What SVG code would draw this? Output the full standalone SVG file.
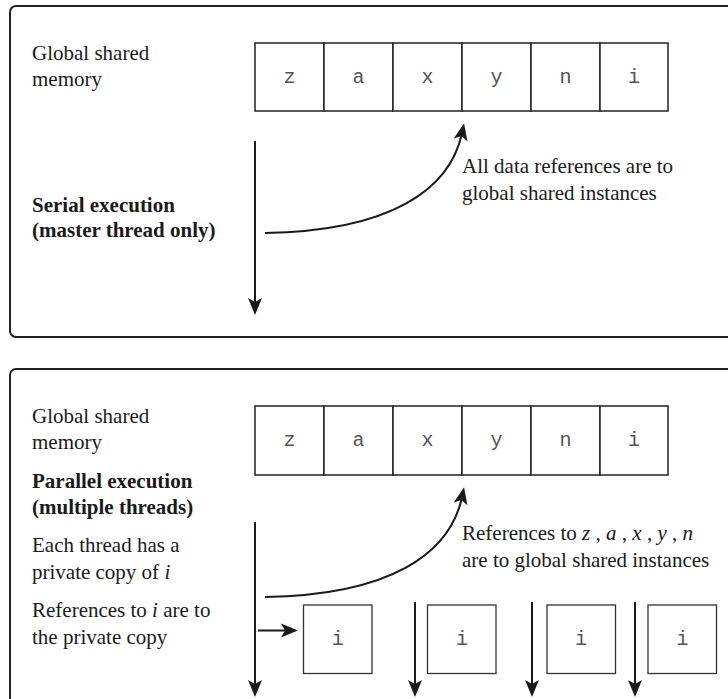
<svg xmlns="http://www.w3.org/2000/svg" width="728" height="699" viewBox="0 0 728 699">
  <defs>
    <marker id="head" markerUnits="userSpaceOnUse" orient="auto" refX="0" refY="0" markerWidth="40" markerHeight="40" overflow="visible">
      <path d="M10,0 L-7,-7 L-3,0 L-7,7 Z" fill="#1a1a1a"/>
    </marker>
    <style>
      .panel { fill: none; stroke: #222; stroke-width: 2; }
      .cell { fill: #fff; stroke: #222; stroke-width: 1.5; }
      .pcell { fill: #fff; stroke: #333; stroke-width: 1.3; }
      .mono { font-family: "Liberation Mono", "DejaVu Sans Mono", monospace; font-size: 20px; fill: #555; text-anchor: middle; }
      .lbl { font-family: "Liberation Serif", "Times New Roman", serif; font-size: 21px; fill: #1a1a1a; }
      .bold { font-weight: bold; }
      .wire { fill: none; stroke: #1a1a1a; stroke-width: 2; marker-end: url(#head); }
    </style>
  </defs>

  <!-- Serial execution panel -->
  <g id="serial-panel">
    <rect class="panel" x="10" y="6" width="740" height="331" rx="6"/>
    <text class="lbl" x="32" y="60">Global shared</text>
    <text class="lbl" x="32" y="86">memory</text>
    <text class="lbl bold" x="32" y="212">Serial execution</text>
    <text class="lbl bold" x="32" y="237">(master thread only)</text>
    <text class="lbl" x="462" y="173">All data references are to</text>
    <text class="lbl" x="462" y="200">global shared instances</text>
  </g>

  <g id="serial-memory">
    <rect class="cell" x="255" y="43" width="69" height="68"/>
    <rect class="cell" x="324" y="43" width="69" height="68"/>
    <rect class="cell" x="393" y="43" width="69" height="68"/>
    <rect class="cell" x="462" y="43" width="69" height="68"/>
    <rect class="cell" x="531" y="43" width="69" height="68"/>
    <rect class="cell" x="600" y="43" width="68" height="68"/>
    <text class="mono" x="289.5" y="83">z</text>
    <text class="mono" x="358.5" y="83">a</text>
    <text class="mono" x="427.5" y="83">x</text>
    <text class="mono" x="496.5" y="83">y</text>
    <text class="mono" x="565.5" y="83">n</text>
    <text class="mono" x="634" y="83">i</text>
  </g>

  <!-- Parallel execution panel -->
  <g id="parallel-panel">
    <rect class="panel" x="10" y="369" width="740" height="360" rx="6"/>
    <text class="lbl" x="32" y="423">Global shared</text>
    <text class="lbl" x="32" y="449">memory</text>
    <text class="lbl bold" x="32" y="488">Parallel execution</text>
    <text class="lbl bold" x="32" y="514">(multiple threads)</text>
    <text class="lbl" x="32" y="552">Each thread has a</text>
    <text class="lbl" x="32" y="579">private copy of <tspan font-style="italic">i</tspan></text>
    <text class="lbl" x="32" y="617">References to <tspan font-style="italic">i</tspan> are to</text>
    <text class="lbl" x="32" y="644">the private copy</text>
    <text class="lbl" x="462" y="540">References to <tspan font-style="italic">z</tspan> , <tspan font-style="italic">a</tspan> , <tspan font-style="italic">x</tspan> , <tspan font-style="italic">y</tspan> , <tspan font-style="italic">n</tspan></text>
    <text class="lbl" x="462" y="567">are to global shared instances</text>
  </g>

  <g id="parallel-memory">
    <rect class="cell" x="255" y="406" width="69" height="69"/>
    <rect class="cell" x="324" y="406" width="69" height="69"/>
    <rect class="cell" x="393" y="406" width="69" height="69"/>
    <rect class="cell" x="462" y="406" width="69" height="69"/>
    <rect class="cell" x="531" y="406" width="69" height="69"/>
    <rect class="cell" x="600" y="406" width="68" height="69"/>
    <text class="mono" x="289.5" y="446">z</text>
    <text class="mono" x="358.5" y="446">a</text>
    <text class="mono" x="427.5" y="446">x</text>
    <text class="mono" x="496.5" y="446">y</text>
    <text class="mono" x="565.5" y="446">n</text>
    <text class="mono" x="634" y="446">i</text>
  </g>

  <g id="private-copy-1">
    <rect class="pcell" x="303.5" y="605" width="68.5" height="68.5"/>
    <text class="mono" x="337.7" y="645">i</text>
  </g>
  <g id="private-copy-2">
    <rect class="pcell" x="427.5" y="605" width="68.5" height="68.5"/>
    <text class="mono" x="462" y="645">i</text>
  </g>
  <g id="private-copy-3">
    <rect class="pcell" x="547" y="605" width="68.5" height="68.5"/>
    <text class="mono" x="581" y="645">i</text>
  </g>
  <g id="private-copy-4">
    <rect class="pcell" x="648" y="605" width="68.5" height="68.5"/>
    <text class="mono" x="682.5" y="645">i</text>
  </g>

  <!-- Connectors -->
  <g id="connectors">
    <path class="wire" d="M255,141 L255,305"/>
    <path class="wire" d="M265,233 C390,231 450,190 462,133"/>
    <path class="wire" d="M255,522 L255,687"/>
    <path class="wire" d="M265,597 C390,595 450,554 462,497"/>
    <path class="wire" d="M258,630.5 L288,630.5"/>
    <path class="wire" d="M415,602 L415,687"/>
    <path class="wire" d="M532,602 L532,687"/>
    <path class="wire" d="M635,602 L635,687"/>
  </g>
</svg>
